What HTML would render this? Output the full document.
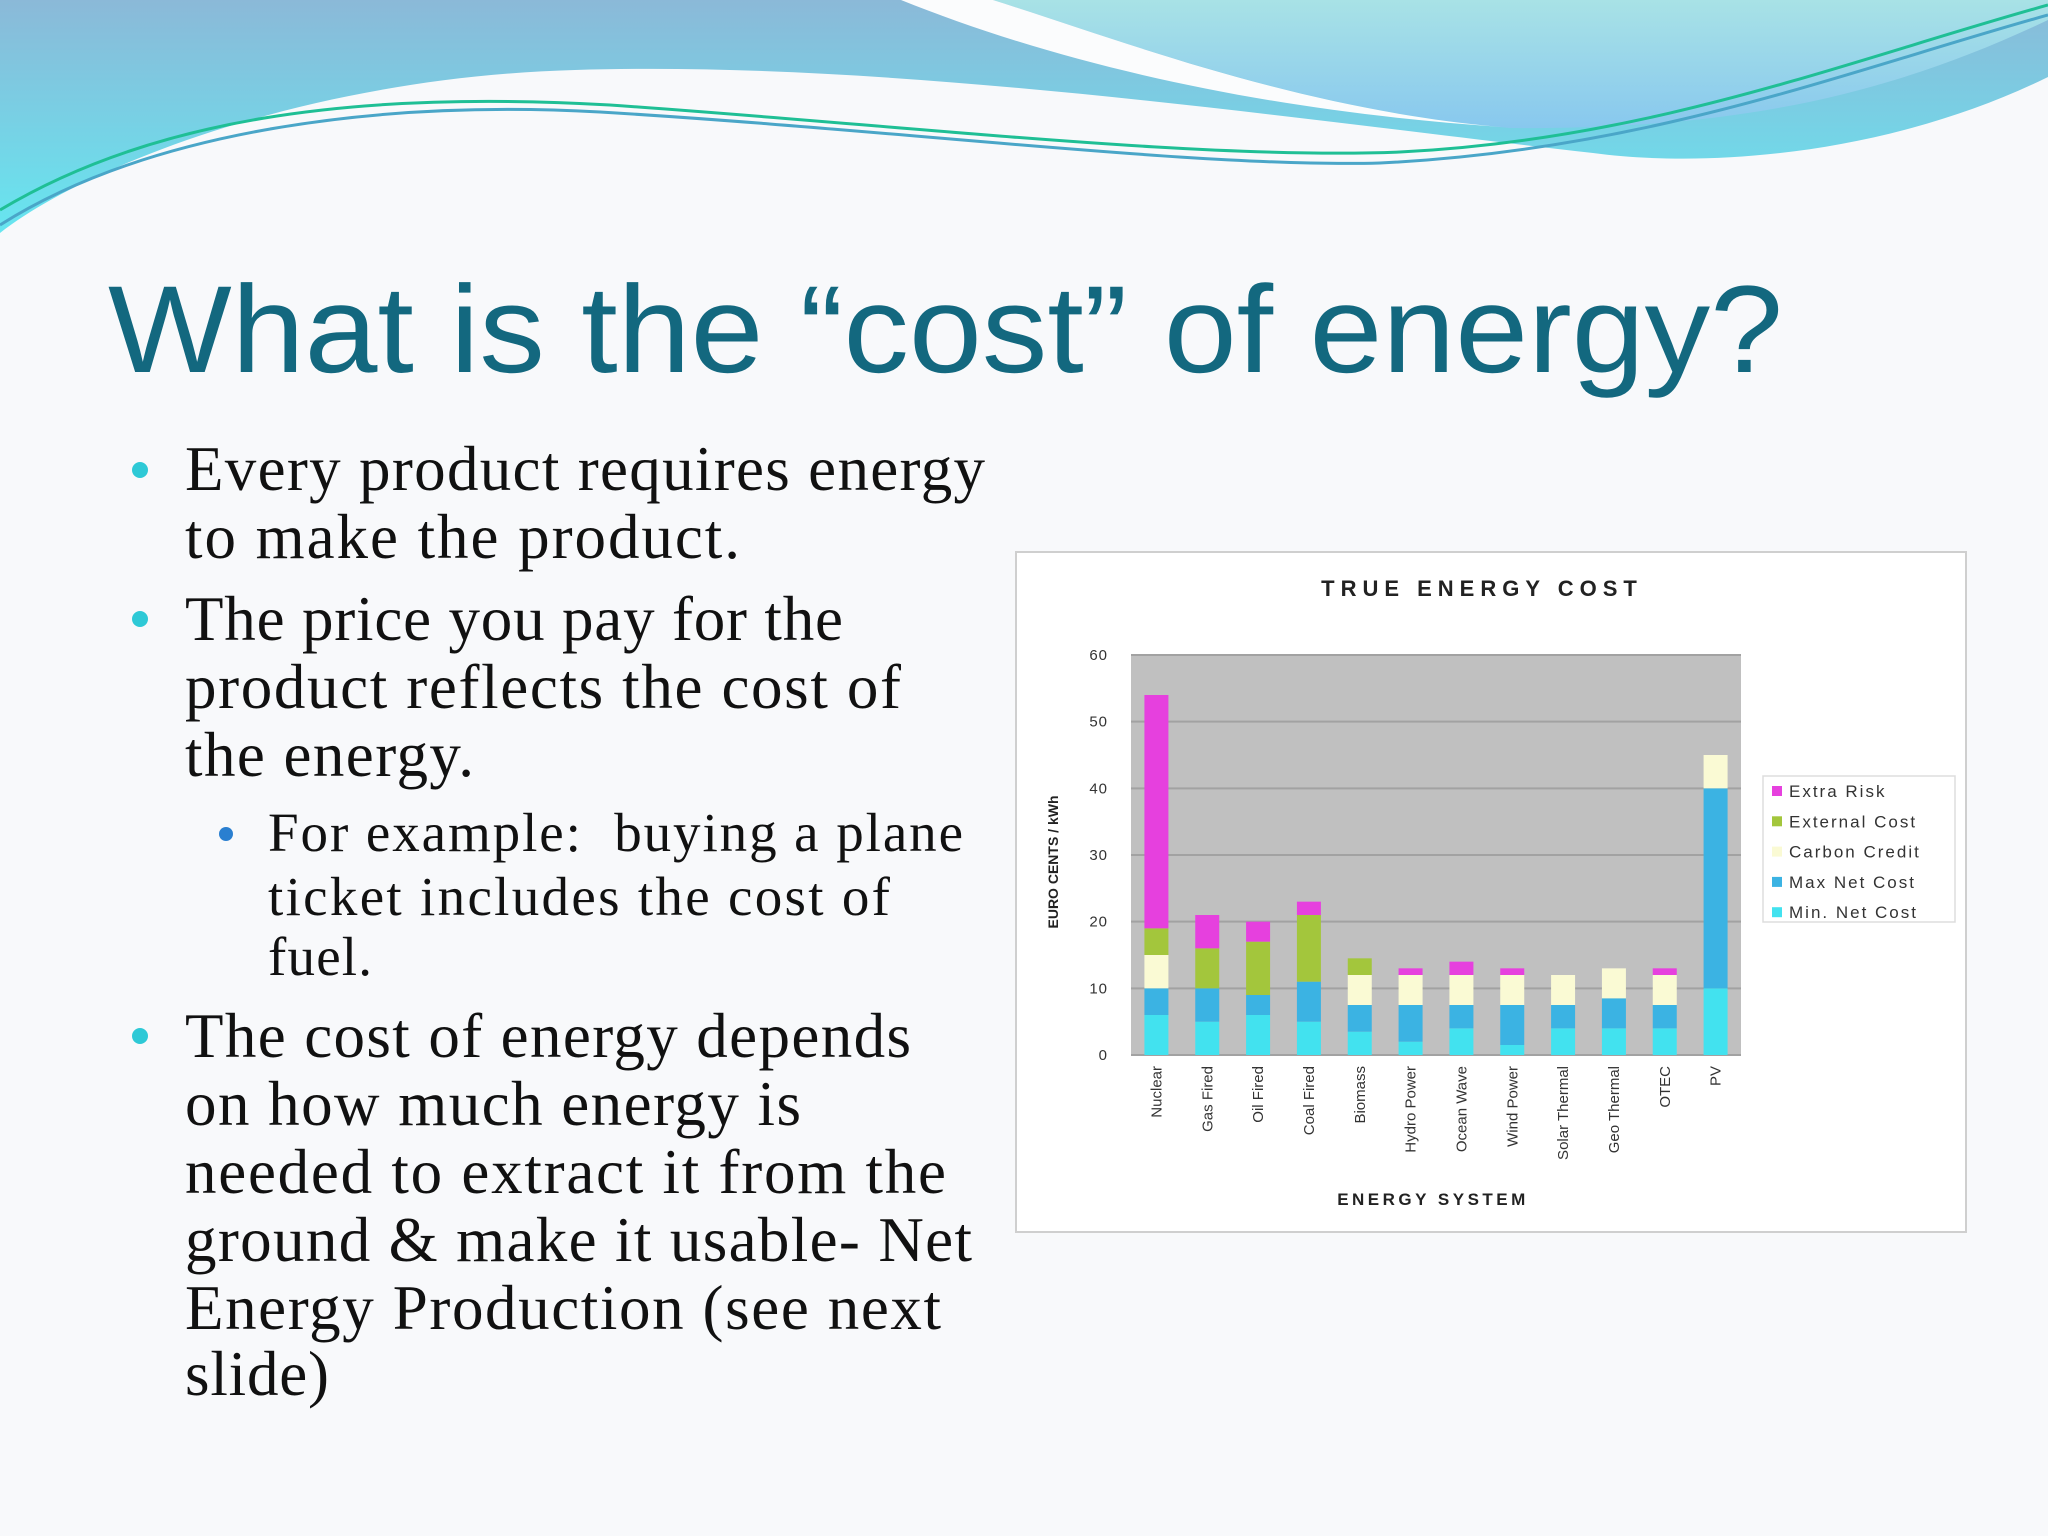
<!DOCTYPE html>
<html><head><meta charset="utf-8">
<style>
html,body{margin:0;padding:0;background:#f8f9fb;}
svg{display:block;}
</style></head>
<body>
<svg id="page" width="2048" height="1536" viewBox="0 0 2048 1536" xmlns="http://www.w3.org/2000/svg">
<defs>
<linearGradient id="gBlue" x1="0" y1="0" x2="0" y2="1"><stop offset="0" stop-color="#8bb9d8"/><stop offset="1" stop-color="#66e6f0"/></linearGradient>
<linearGradient id="gLight" x1="0" y1="0" x2="0" y2="1"><stop offset="0" stop-color="#a8e2e6"/><stop offset="1" stop-color="#88c8ee"/></linearGradient>
</defs>
<rect x="0" y="0" width="2048" height="1536" fill="#f8f9fb"/>
<g>
<path d="M0,0 L2048,0 L2048,77 C1900,150 1720,170 1593,153 C1300,120 900,60 575,70 C300,78 80,170 0,233 Z" fill="url(#gBlue)"/>
<path d="M993,0 L2048,0 L2048,20 C1900,90 1750,130 1510,128 C1300,110 1120,40 993,0 Z" fill="url(#gLight)"/>
<path d="M901,0 L993,0 C1120,40 1300,110 1502,127 C1250,110 1050,60 901,0 Z" fill="#fbfcfd"/>
<path d="M0,210 C150,120 350,90 610,105 C900,125 1200,160 1400,152 C1650,140 1850,60 2048,5" fill="none" stroke="#1fbf95" stroke-width="3"/>
<path d="M0,225 C150,130 380,100 600,112 C900,130 1200,168 1380,163 C1650,150 1850,70 2048,15" fill="none" stroke="#4aa6c8" stroke-width="3"/>
</g>
<text x="108" y="372" font-family="Liberation Sans, sans-serif" font-size="124" fill="#13687f" textLength="1675" lengthAdjust="spacingAndGlyphs">What is the “cost” of energy?</text>
<g font-family="Liberation Serif, serif" fill="#111">
<circle cx="140" cy="470" r="8" fill="#2ec9d6"/>
<circle cx="140" cy="619" r="8" fill="#2ec9d6"/>
<circle cx="140" cy="1036" r="8" fill="#2ec9d6"/>
<circle cx="226" cy="834" r="7" fill="#2a7fd0"/>
<text font-size="63" lengthAdjust="spacingAndGlyphs"><tspan x="185" y="490" textLength="800">Every product requires energy</tspan><tspan x="185" y="558" textLength="555">to make the product.</tspan></text>
<text font-size="63"><tspan x="185" y="640" textLength="658">The price you pay for the</tspan><tspan x="185" y="708" textLength="716">product reflects the cost of</tspan><tspan x="185" y="776" textLength="289">the energy.</tspan></text>
<text font-size="55"><tspan x="268" y="851" textLength="695" xml:space="preserve">For example:  buying a plane</tspan><tspan x="268" y="915" textLength="622">ticket includes the cost of</tspan><tspan x="268" y="975" textLength="104">fuel.</tspan></text>
<text font-size="63"><tspan x="185" y="1057" textLength="726">The cost of energy depends</tspan><tspan x="185" y="1125" textLength="616">on how much energy is</tspan><tspan x="185" y="1193" textLength="761">needed to extract it from the</tspan><tspan x="185" y="1261" textLength="787">ground &amp; make it usable- Net</tspan><tspan x="185" y="1329" textLength="756">Energy Production (see next</tspan><tspan x="185" y="1395" textLength="144">slide)</tspan></text>
</g>
<g id="chart">
<rect x="1016" y="552" width="950" height="680" fill="#ffffff" stroke="#cfcfcf" stroke-width="2"/>
<text x="1482" y="596" text-anchor="middle" font-family="Liberation Sans, sans-serif" font-weight="bold" font-size="22" letter-spacing="6" fill="#222">TRUE ENERGY COST</text>
<rect x="1131" y="655" width="610" height="400" fill="#c0c0c0"/>
<g id="grid"></g><g id="bars"></g><g id="yticks"></g><g id="xlabels"></g>
<text transform="translate(1058,862) rotate(-90)" text-anchor="middle" font-family="Liberation Sans, sans-serif" font-weight="bold" font-size="14" fill="#222">EURO CENTS / kWh</text>
<text x="1433" y="1205" text-anchor="middle" font-family="Liberation Sans, sans-serif" font-weight="bold" font-size="17" letter-spacing="3.5" fill="#222">ENERGY SYSTEM</text>
<g>
<rect x="1763" y="776" width="192" height="146" fill="#fff" stroke="#ddd" stroke-width="1.5"/>
<g id="legend-items"></g>
</g>
</g>
</svg>
<script>
const categories=["Nuclear","Gas Fired","Oil Fired","Coal Fired","Biomass","Hydro Power","Ocean Wave","Wind Power","Solar Thermal","Geo Thermal","OTEC","PV"];
const minNetCost=[6,5,6,5,3.5,2,4,1.5,4,4,4,10];
const maxNetCostExtra=[4,5,3,6,4,5.5,3.5,6,3.5,4.5,3.5,30];
const carbonCredit=[5,0,0,0,4.5,4.5,4.5,4.5,4.5,4.5,4.5,5];
const externalCost=[4,6,8,10,2.5,0,0,0,0,0,0,0];
const extraRisk=[35,5,3,2,0,1,2,1,0,0,1,0];
const seriesNames=["Extra Risk","External Cost","Carbon Credit","Max Net Cost","Min. Net Cost"];
const yTicks=[0,10,20,30,40,50,60];
const NS="http://www.w3.org/2000/svg";
const px0=1131,pw=610,py0=1055,ph=400,yMax=60;
const colors=["#e640de","#a3c63c","#fafad4","#3bb3e3","#42e2ef"];
function y(v){return py0-v/yMax*ph;}
function xBand(i){return px0+i*pw/categories.length;}
function mk(tag,attrs,parent){const e=document.createElementNS(NS,tag);for(const k in attrs)e.setAttribute(k,attrs[k]);parent.appendChild(e);return e;}
const grid=document.getElementById('grid'),yt=document.getElementById('yticks');
yTicks.forEach(t=>{
 const l=mk('line',{x1:px0,x2:px0+pw,y1:y(t),y2:y(t),stroke:'#a2a2a2','stroke-width':2},grid);
 
 
 const tx=mk('text',{x:1108,y:y(t)+5,'text-anchor':'end','font-family':'Liberation Sans, sans-serif','font-size':15,'letter-spacing':1,fill:'#333'},yt);
 tx.textContent=t;
 
 
});
const bars=document.getElementById('bars'),xl=document.getElementById('xlabels');
const stack=[minNetCost,maxNetCostExtra,carbonCredit,externalCost,extraRisk];
const stackColors=[colors[4],colors[3],colors[2],colors[1],colors[0]];
const bw=pw/categories.length;
categories.forEach((c,i)=>{
 let base=0;
 const cx=xBand(i)+bw/2;
 stack.forEach((s,k)=>{
  const v=s[i];
  if(v>0){
   const r=mk('rect',{x:cx-12,width:24,y:y(base+v),height:y(base)-y(base+v),fill:stackColors[k]},bars);
   
   
  }
  base+=v;
 });
 const t=mk('text',{transform:`translate(${cx+5},1066) rotate(-90)`,'text-anchor':'end','font-family':'Liberation Sans, sans-serif','font-size':15,fill:'#333'},xl);
 t.textContent=c;
 
 
});
const li=document.getElementById('legend-items');
seriesNames.forEach((n,i)=>{
 const yy=791+i*30.3;
 const r=mk('rect',{x:1772,y:yy-5,width:10,height:10,fill:colors[i]},li);
 
 
 const t=mk('text',{x:1789,y:yy+6,'font-family':'Liberation Sans, sans-serif','font-size':17,'letter-spacing':2,fill:'#333'},li);
 t.textContent=n;
 
 
});
</script>
</body></html>
